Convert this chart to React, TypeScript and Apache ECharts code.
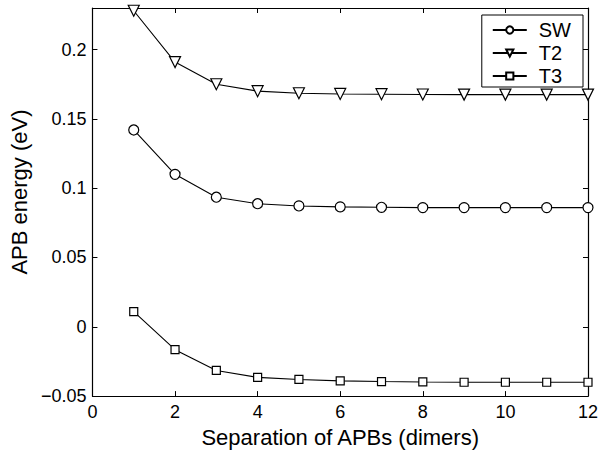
import React, { useEffect, useRef } from "react";
import * as echarts from "echarts";

const separations = [1, 2, 3, 4, 5, 6, 7, 8, 9, 10, 11, 12];
const swEnergy = [0.142, 0.110, 0.0935, 0.0888, 0.0872, 0.0865, 0.0862, 0.086, 0.086, 0.086, 0.086, 0.086];
const t2Energy = [0.228, 0.191, 0.175, 0.170, 0.1685, 0.168, 0.1678, 0.1676, 0.1675, 0.1675, 0.1675, 0.1675];
const t3Energy = [0.011, -0.0165, -0.0315, -0.0365, -0.038, -0.039, -0.0395, -0.0398, -0.04, -0.04, -0.04, -0.04];
const seriesNames = ["SW", "T2", "T3"];

const FONT = "Liberation Sans, Arial, Helvetica, sans-serif";

export default function App() {
  const ref = useRef<HTMLDivElement>(null);
  useEffect(() => {
    if (!ref.current) return;
    const chart = echarts.init(ref.current, null, { renderer: "svg" });
    const fmtY = (v: number) => {
      const r = Math.round(v * 100) / 100;
      if (Math.abs(r - v) > 1e-6) return "";
      if (r === 0) return "0";
      const s = String(r);
      return s.startsWith("-") ? "\u2212" + s.slice(1) : s;
    };
    const mk = (vals: number[]) => separations.map((x, i) => [x, vals[i]]);
    const common = {
      type: "line",
      showSymbol: true,
      lineStyle: { color: "#000", width: 1.1 },
      itemStyle: { color: "#fff", borderColor: "#000", borderWidth: 1.2 },
      emphasis: { disabled: true },
    };
    const tick = { show: true, inside: true, length: 5, lineStyle: { color: "#000", width: 1 } };
    const line = { show: true, onZero: false, lineStyle: { color: "#000", width: 1.2 } };
    chart.setOption({
      animation: false,
      textStyle: { fontFamily: FONT },
      grid: { left: 91, right: 11, top: 8, bottom: 51, containLabel: false },
      legend: {
        orient: "vertical",
        right: 18,
        top: 15,
        data: seriesNames,
        backgroundColor: "#fff",
        borderColor: "#000",
        borderWidth: 1,
        borderRadius: 0,
        padding: [5, 12, 1, 10],
        itemWidth: 34,
        itemHeight: 9,
        itemGap: 3,
        textStyle: { fontFamily: FONT, fontSize: 20, color: "#000", padding: [0, 0, 0, 7] },
      },
      xAxis: [
        {
          type: "value",
          min: 0,
          max: 12,
          interval: 2,
          name: "Separation of APBs (dimers)",
          nameLocation: "middle",
          nameGap: 28,
          nameTextStyle: { fontFamily: FONT, fontSize: 22, color: "#000" },
          axisLine: line,
          axisTick: tick,
          axisLabel: { fontFamily: FONT, fontSize: 18, color: "#000", margin: 7 },
          splitLine: { show: false },
        },
        {
          type: "value",
          position: "top",
          min: 0,
          max: 12,
          interval: 2,
          axisLine: line,
          axisTick: tick,
          axisLabel: { show: false },
          splitLine: { show: false },
        },
      ],
      yAxis: [
        {
          type: "value",
          min: -0.05,
          max: 0.23,
          interval: 0.05,
          name: "APB energy (eV)",
          nameLocation: "middle",
          nameGap: 58,
          nameTextStyle: { fontFamily: FONT, fontSize: 22, color: "#000", padding: [0, 0, 0, 20] },
          axisLine: line,
          axisTick: tick,
          axisLabel: { fontFamily: FONT, fontSize: 18, color: "#000", margin: 6, formatter: fmtY, showMaxLabel: false },
          splitLine: { show: false },
        },
        {
          type: "value",
          position: "right",
          min: -0.05,
          max: 0.23,
          interval: 0.05,
          axisLine: line,
          axisTick: tick,
          axisLabel: { show: false },
          splitLine: { show: false },
        },
      ],
      series: [
        { ...common, name: "SW", data: mk(swEnergy), symbol: "circle", symbolSize: 10 },
        { ...common, name: "T2", data: mk(t2Energy), symbol: "triangle", symbolRotate: 180, symbolSize: 11 },
        { ...common, name: "T3", data: mk(t3Energy), symbol: "rect", symbolSize: 8 },
      ],
    });
    return () => chart.dispose();
  }, []);
  return <div ref={ref} style={{ width: 601, height: 453, position: "absolute", left: 0, top: 0 }} />;
}
